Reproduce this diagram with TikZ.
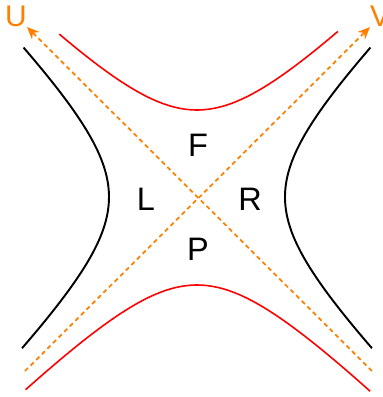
\documentclass[tikz,border=0pt]{standalone}
\usepackage{fontspec}
\setmainfont{Liberation Sans}
\usepackage{tikz}
\usetikzlibrary{arrows.meta, positioning}

\definecolor{axisorange}{RGB}{255,128,0}

\begin{document}
\begin{tikzpicture}[
  x=0.02cm, y=0.02cm,
  region/.style={font=\fontsize{18.5}{22}\selectfont, inner sep=0pt},
  axislabel/.style={font=\fontsize{17}{20}\selectfont, text=axisorange, inner sep=0pt},
  axis/.style={axisorange, line width=1pt, dash pattern=on 2.5pt off 2pt, -{Stealth[length=7pt, width=6pt]}},
  horizon/.style={black, line width=1.1pt},
  slice/.style={red, line width=0.9pt}
]
  \useasboundingbox (-197,-200) rectangle (186,197);
  % regions
  \node[region] (F) at (1,52) {F};
  \node[region] (L) at (-51,-2) {L};
  \node[region] (R) at (53,-2) {R};
  \node[region] (P) at (1,-52) {P};
  % null axes
  \node[axislabel] (U) at (-181,181) {U};
  \node[axislabel] (V) at (183,181) {V};
  \coordinate (u0) at (175,-174);
  \coordinate (v0) at (-172,-174);
  \coordinate (utip) at (-170,170);
  \coordinate (vtip) at (173,170);
  \draw[axis] (u0) -- (utip);
  \draw[axis] (v0) -- (vtip);
  % hyperbolas
  \draw[horizon] plot[domain=-1.31:1.30, samples=60, smooth] ({-88*cosh(\x)}, {88*sinh(\x)});
  \draw[horizon] plot[domain=-1.31:1.30, samples=60, smooth] ({88*cosh(\x)}, {88*sinh(\x)});
  \draw[slice] plot[domain=-1.24:1.26, samples=60, smooth] ({87*sinh(\x)}, {87*cosh(\x)});
  \draw[slice] plot[domain=-1.42:1.43, samples=60, smooth] ({88*sinh(\x)}, {-88*cosh(\x)});
\end{tikzpicture}
\end{document}
